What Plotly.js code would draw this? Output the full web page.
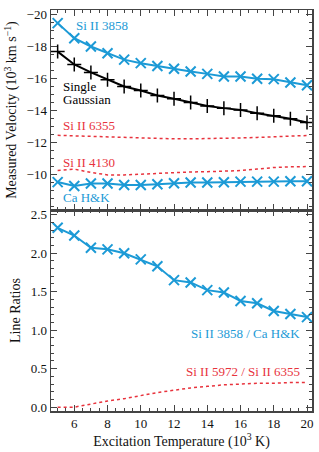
<!DOCTYPE html>
<html>
<head>
<meta charset="utf-8">
<script src="https://cdn.plot.ly/plotly-3.0.1.min.js"></script>
<style>html,body{margin:0;padding:0;background:#fff;}#chart{width:319px;height:452px;}</style>
</head>
<body>
<div id="chart"></div>
<script>
var temps = [5, 6, 7, 8, 9, 10, 11, 12, 13, 14, 15, 16, 17, 18, 19, 20];
var si3858Vel = [-19.48, -18.54, -18.02, -17.6, -17.2, -16.98, -16.8, -16.63, -16.46, -16.31, -16.15, -16.15, -16.0, -15.98, -15.77, -15.6];
var singleGaussVel = [-17.7, -16.9, -16.4, -15.94, -15.52, -15.27, -14.96, -14.75, -14.52, -14.31, -14.17, -14.06, -13.85, -13.69, -13.5, -13.27];
var si6355Vel = [-12.47, -12.44, -12.4, -12.35, -12.31, -12.28, -12.26, -12.25, -12.25, -12.26, -12.28, -12.31, -12.34, -12.38, -12.42, -12.46];
var si4130Vel = [-10.27, -10.36, -10.15, -10.0, -10.0, -10.05, -10.1, -10.15, -10.18, -10.2, -10.23, -10.27, -10.36, -10.46, -10.5, -10.52];
var caHKVel = [-9.55, -9.31, -9.46, -9.46, -9.37, -9.37, -9.42, -9.48, -9.52, -9.52, -9.54, -9.58, -9.58, -9.58, -9.6, -9.6];
var ratioSi3858CaHK = [2.33, 2.23, 2.07, 2.05, 2.0, 1.92, 1.83, 1.65, 1.62, 1.52, 1.49, 1.38, 1.35, 1.25, 1.21, 1.17];
var ratioSi5972Si6355 = [0.0, 0.0, 0.04, 0.08, 0.11, 0.15, 0.19, 0.22, 0.25, 0.27, 0.29, 0.30, 0.31, 0.31, 0.32, 0.32];
var velTicks = [-20, -18, -16, -14, -12, -10];

var BLUE = '#1c9ad6';
var RED = '#e8333d';
var FONT = 'Liberation Serif';

var blueCross = {symbol: 'x-thin-open', size: 10, color: BLUE, line: {color: BLUE, width: 2}};

var traces = [
  {x: temps, y: si3858Vel, xaxis: 'x2', yaxis: 'y2', mode: 'lines+markers', line: {color: BLUE, width: 2}, marker: blueCross},
  {x: temps, y: singleGaussVel, xaxis: 'x2', yaxis: 'y2', mode: 'lines+markers', line: {color: '#000', width: 2},
   marker: {symbol: 'cross-thin-open', size: 10, color: '#000', line: {color: '#000', width: 1.5}}},
  {x: temps, y: si6355Vel, xaxis: 'x2', yaxis: 'y2', mode: 'lines', line: {color: RED, width: 1.5, dash: 'dot'}},
  {x: temps, y: si4130Vel, xaxis: 'x2', yaxis: 'y2', mode: 'lines', line: {color: RED, width: 1.5, dash: 'dot'}},
  {x: temps, y: caHKVel, xaxis: 'x2', yaxis: 'y2', mode: 'lines+markers', line: {color: BLUE, width: 2}, marker: blueCross},
  {x: temps, y: ratioSi3858CaHK, xaxis: 'x', yaxis: 'y', mode: 'lines+markers', line: {color: BLUE, width: 2}, marker: blueCross},
  {x: temps, y: ratioSi5972Si6355, xaxis: 'x', yaxis: 'y', mode: 'lines', line: {color: RED, width: 1.5, dash: 'dot'}}
];

var axisCommon = {
  showline: true, mirror: 'allticks', linecolor: '#444', linewidth: 1.5,
  ticks: 'inside', ticklen: 6, tickwidth: 1, tickcolor: '#444',
  showgrid: false, zeroline: false,
  tickfont: {family: FONT, size: 13, color: '#111'}
};
function ax(extra) { return Object.assign({}, axisCommon, extra); }

var ann = function (text, x, y, xref, yref, color, xanchor) {
  return {text: text, x: x, y: y, xref: xref, yref: yref, showarrow: false,
          xanchor: xanchor || 'left', yanchor: 'middle', font: {family: FONT, size: 13, color: color}};
};

var layout = {
  width: 319, height: 452,
  margin: {l: 51, r: 7, t: 10, b: 41},
  paper_bgcolor: '#fff', plot_bgcolor: '#fff',
  showlegend: false,
  font: {family: FONT, size: 13, color: '#111'},
  xaxis: ax({anchor: 'y', range: [4.6, 20.3], dtick: 2, tick0: 0,
    minor: {dtick: 0.5, tick0: 0, ticks: 'inside', ticklen: 3, tickcolor: '#444'},
    title: {text: 'Excitation Temperature (10<sup>3</sup> K)', font: {family: FONT, size: 14, color: '#111'}, standoff: 2}}),
  xaxis2: ax({anchor: 'y2', matches: 'x', range: [4.6, 20.3], dtick: 2, tick0: 0, showticklabels: false,
    minor: {dtick: 0.5, tick0: 0, ticks: 'inside', ticklen: 3, tickcolor: '#444'}}),
  yaxis: ax({anchor: 'x', domain: [0, 0.501], range: [-0.05, 2.56], dtick: 0.5, tick0: 0, tickformat: '.1f',
    minor: {dtick: 0.1, tick0: 0, ticks: 'inside', ticklen: 3, tickcolor: '#444'},
    title: {text: 'Line Ratios', font: {family: FONT, size: 14, color: '#111'}, standoff: 6}}),
  yaxis2: ax({anchor: 'x2', domain: [0.501, 1], range: [-7.8, -20.3], tickmode: 'array', tickvals: velTicks,
    minor: {dtick: 0.5, tick0: 0, ticks: 'inside', ticklen: 3, tickcolor: '#444'},
    title: {text: 'Measured Velocity (10<sup>3</sup> km s<sup>−1</sup>)', font: {family: FONT, size: 14, color: '#111'}, standoff: 6}}),
  annotations: [
    ann('Si II 3858', 5.98, -19.36, 'x2', 'y2', BLUE),
    ann('Single', 5.2, -15.55, 'x2', 'y2', '#000'),
    ann('Gaussian', 5.2, -14.74, 'x2', 'y2', '#000'),
    ann('Si II 6355', 5.2, -13.06, 'x2', 'y2', RED),
    ann('Si II 4130', 5.2, -10.76, 'x2', 'y2', RED),
    ann('Ca H&amp;K', 5.2, -8.57, 'x2', 'y2', BLUE),
    ann('Si II 3858 / Ca H&amp;K', 19.7, 0.96, 'x', 'y', BLUE, 'right'),
    ann('Si II 5972 / Si II 6355', 19.7, 0.46, 'x', 'y', RED, 'right')
  ]
};

Plotly.newPlot('chart', traces, layout, {displayModeBar: false, staticPlot: true});
</script>
</body>
</html>
